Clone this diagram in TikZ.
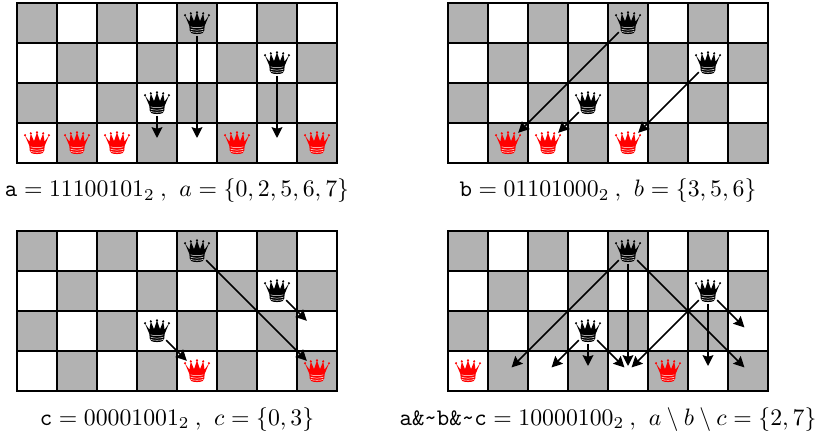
\documentclass[tikz,border=0pt]{standalone}
\usepackage{amsmath,amssymb}
\usepackage{xcolor}
\usetikzlibrary{arrows.meta}

\definecolor{boardgray}{gray}{0.7}

\tikzset{
    pics/crown/.style={code={
        \fill[#1] (-7.6,-3) -- (-12,7.5) -- (-7.6,1.4) -- (-6.2,9.5) -- (-3,1.8) -- (0,10.5) -- (3,1.8) -- (6.2,9.5) -- (7.6,1.4) -- (12,7.5) -- (7.6,-3) -- cycle;
        \fill[#1] (-7.6,-3) .. controls (-7.8,-6) and (-7.3,-9) .. (-5.8,-10) .. controls (-3,-11.4) and (3,-11.4) .. (5.8,-10) .. controls (7.3,-9) and (7.8,-6) .. (7.6,-3) -- cycle;
        \foreach \bx/\by in {-12/7.8, -6.2/9.7, 0/10.6, 6.2/9.7, 12/7.8} \fill[#1] (\bx,\by) circle (1.2);
        \foreach \ly in {-3.8,-6.2,-8.4} \draw[white, line width=0.35pt] (-6.4,\ly) .. controls (-3,\ly-1.2) and (3,\ly-1.2) .. (6.4,\ly);
    }}
}

% a piece is a named round node with the crown on top
\newcommand{\queen}[3]{%
    \node[queen] (#1) at (#2) {};
    \pic[scale=0.025] at (#1) {crown=#3};
}

% the 4x8 board, then the three black queens
\newcommand{\boardcells}{%
    \foreach \r in {0,...,3}
        \foreach \c in {0,...,7} {
            \pgfmathtruncatemacro{\s}{mod(\r+\c,2)}
            \node[cell\s] (c\r\c) at (\c+0.5,-\r-0.5) {};
        }
    \queen{q04}{c04}{black}
    \queen{q16}{c16}{black}
    \queen{q23}{c23}{black}
}

\newcommand{\capsep}{\hspace{0.22em},\hspace{0.37em}}

\begin{document}
\begin{tikzpicture}[
    cell0/.style={draw, line width=1.2pt, fill=boardgray, minimum size=1cm, inner sep=0pt, outer sep=0pt},
    cell1/.style={draw, line width=1.2pt, fill=white, minimum size=1cm, inner sep=0pt, outer sep=0pt},
    queen/.style={circle, minimum size=0.65cm, inner sep=0pt, outer sep=0pt},
    arrow/.style={-{Stealth[length=2.7mm, width=2.7mm, inset=0.4mm]}, line width=1.1pt, shorten >=0.125cm},
    stopshort/.style={shorten >=0.36cm},
    caption/.style={scale=1.69, inner sep=0pt, anchor=base}
]
\useasboundingbox (0,0) rectangle (20.425,-10.8);

% --- Board a ---
\begin{scope}[shift={(0.425,-0.075)}, name prefix=a-]
    \boardcells
    \foreach \c in {0,1,2,5,7} {\queen{r\c}{c3\c}{red}}
    \draw[arrow] (q04) -- (c34.center);
    \draw[arrow] (q16) -- (c36.center);
    \draw[arrow] (q23) -- (c33.center);
    \node[caption] (cap) at (4,-4.85) {$\texttt{a}=11100101_2\capsep a=\{0,2,5,6,7\}$};
\end{scope}

% --- Board b ---
\begin{scope}[shift={(11.2,-0.075)}, name prefix=b-]
    \boardcells
    \foreach \c in {1,2,4} {\queen{r\c}{c3\c}{red}}
    \draw[arrow, stopshort] (q04) -- (c31.center);
    \draw[arrow, stopshort] (q16) -- (c34.center);
    \draw[arrow, stopshort] (q23) -- (c32.center);
    \node[caption] (cap) at (4,-4.85) {$\texttt{b}=01101000_2\capsep b=\{3,5,6\}$};
\end{scope}

% --- Board c ---
\begin{scope}[shift={(0.425,-5.775)}, name prefix=c-]
    \boardcells
    \foreach \c in {4,7} {\queen{r\c}{c3\c}{red}}
    \draw[arrow, stopshort] (q04) -- (c37.center);
    \draw[arrow, stopshort] (q16) -- (c27.center);
    \draw[arrow, stopshort] (q23) -- (c34.center);
    \node[caption] (cap) at (4,-4.85) {$\texttt{c}=00001001_2\capsep c=\{0,3\}$};
\end{scope}

% --- Board d ---
\begin{scope}[shift={(11.2,-5.775)}, name prefix=d-]
    \boardcells
    \foreach \c in {0,5} {\queen{r\c}{c3\c}{red}}
    \foreach \e in {c31,c34,c37} \draw[arrow] (q04) -- (\e.center);
    \foreach \e in {c34,c36,c27} \draw[arrow] (q16) -- (\e.center);
    \foreach \e in {c32,c33,c34} \draw[arrow] (q23) -- (\e.center);
    \node[caption] (cap) at (4,-4.85) {$\texttt{a\&\~{}b\&\~{}c}=10000100_2\capsep a\setminus b\setminus c=\{2,7\}$};
\end{scope}

\end{tikzpicture}
\end{document}
